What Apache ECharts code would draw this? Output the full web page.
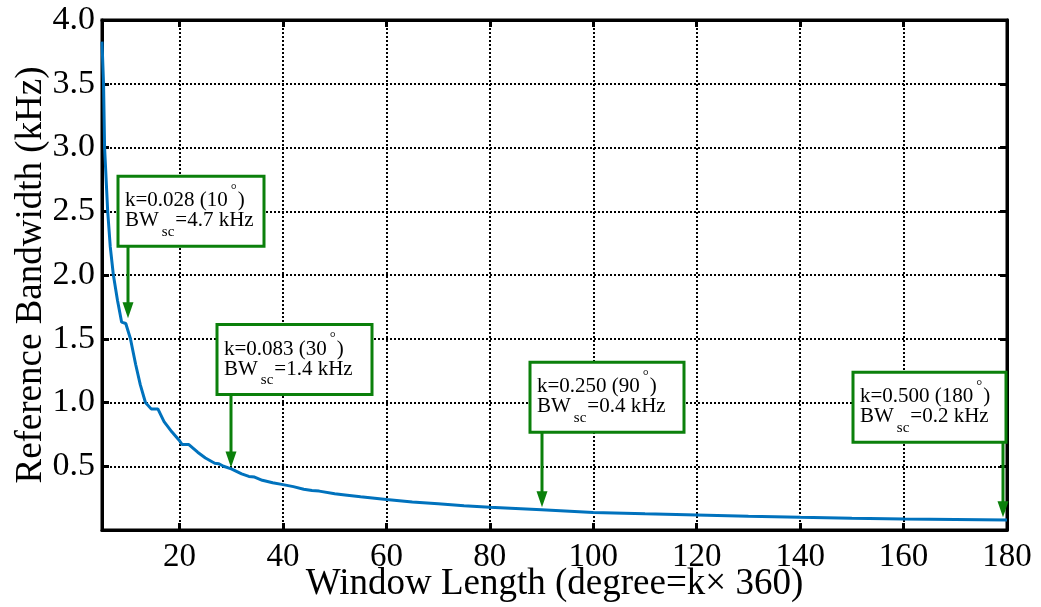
<!DOCTYPE html>
<html><head><meta charset="utf-8">
<script src="https://cdn.jsdelivr.net/npm/echarts@6/dist/echarts.min.js"></script>
<style>html,body{margin:0;padding:0;background:#fff}#c{width:1041px;height:607px}</style>
</head><body><div id="c"></div>
<script>
// ---- data ----
const windowDeg = [5, 5.3, 5.5, 6.1, 6.6, 7.2, 8.0, 8.8, 9.6, 10.5, 11.5, 12.4, 13.4, 14.5, 15.8, 17, 18.5, 20, 20.5, 21.8, 23.5, 25, 26.8, 27.6, 28.5, 30, 32, 33.4, 34.5, 36, 38, 40, 42, 44, 45.6, 47, 50, 52, 55, 60, 65, 70, 75, 80, 85, 90, 100, 110, 120, 130, 140, 150, 160, 170, 180];
const bandwidth = [3.83, 3.5, 3.0, 2.5, 2.22, 2.0, 1.8, 1.63, 1.62, 1.5, 1.3, 1.14, 1.0, 0.95, 0.95, 0.85, 0.77, 0.70, 0.67, 0.67, 0.61, 0.565, 0.524, 0.52, 0.50, 0.48, 0.44, 0.42, 0.415, 0.39, 0.37, 0.356, 0.34, 0.32, 0.31, 0.305, 0.285, 0.275, 0.26, 0.239, 0.22, 0.205, 0.19, 0.178, 0.168, 0.158, 0.137, 0.127, 0.118, 0.108, 0.10, 0.093, 0.087, 0.083, 0.079];
const xTicks = [20, 40, 60, 80, 100, 120, 140, 160, 180];
const xTitle = 'Window Length (degree=k\u00d7 360)';
const yTitle = 'Reference Bandwidth (kHz)';

// annotations (arrow tip in data coordinates + texts)
const annX = [10, 30, 90, 179.2];
const annY = [1.66, 0.49, 0.178, 0.10];
const annK = ['0.028', '0.083', '0.250', '0.500'];
const annDeg = ['10', '30', '90', '180'];
const annBW = ['4.7', '1.4', '0.4', '0.2'];

// ---- layout / style ----
const FONT = '"Liberation Serif", "Times New Roman", serif';
const GREEN = '#0b800b';
const boxDx = [-10, -14, -12, -150];
const boxDy = [-142, -143, -145, -145];
const boxW = [146, 155, 154, 153];
const boxH = 70;

const chart = echarts.init(document.getElementById('c'));

const tickStyle = { color: '#000', width: 3 };
const option = {
  animation: false,
  backgroundColor: '#fff',
  grid: { left: 102, right: 34, top: 20, bottom: 77, show: true, borderColor: '#000', borderWidth: 3,
    containLabel: false, outerBoundsMode: 'none' },
  xAxis: [
    {
      type: 'value', min: 5, max: 180, position: 'bottom',
      axisLine: { show: true, onZero: false, lineStyle: tickStyle },
      axisTick: { show: true, inside: true, length: 7, lineStyle: tickStyle, customValues: xTicks },
      axisLabel: { customValues: xTicks, fontFamily: FONT, fontSize: 33, color: '#000', margin: 11 },
      splitLine: { show: true, lineStyle: { type: [2, 2], width: 2, color: '#000' } },
      name: xTitle, nameLocation: 'middle', nameGap: 36, nameMoveOverlap: false,
      nameTextStyle: { fontFamily: FONT, fontSize: 37, color: '#000' }
    },
    {
      type: 'value', min: 5, max: 180, position: 'top',
      axisLine: { show: true, onZero: false, lineStyle: tickStyle },
      axisTick: { show: true, inside: true, length: 7, lineStyle: tickStyle, customValues: xTicks },
      axisLabel: { show: false }, splitLine: { show: false }
    }
  ],
  yAxis: [
    {
      type: 'value', min: 0, max: 4, interval: 0.5, position: 'left',
      axisLine: { show: true, onZero: false, lineStyle: tickStyle },
      axisTick: { show: true, inside: true, length: 7, lineStyle: tickStyle },
      axisLabel: { fontFamily: FONT, fontSize: 34, color: '#000', margin: 7,
        formatter: v => (v === 0 ? '' : v.toFixed(1)) },
      splitLine: { show: true, lineStyle: { type: [2, 2], width: 2, color: '#000' } },
      name: yTitle, nameLocation: 'middle', nameGap: 52, nameMoveOverlap: false,
      nameTextStyle: { fontFamily: FONT, fontSize: 37, color: '#000' }
    },
    {
      type: 'value', min: 0, max: 4, interval: 0.5, position: 'right',
      axisLine: { show: true, onZero: false, lineStyle: tickStyle },
      axisTick: { show: true, inside: true, length: 7, lineStyle: tickStyle },
      axisLabel: { show: false }, splitLine: { show: false }
    }
  ],
  series: [{
    type: 'line', xAxisIndex: 0, yAxisIndex: 0,
    data: windowDeg.map((x, i) => [x, bandwidth[i]]),
    showSymbol: false, symbol: 'none', silent: true, z: 3,
    lineStyle: { color: '#0072BD', width: 3 }
  }]
};
chart.setOption(option);

// ---- annotations ----
const cv = document.createElement('canvas').getContext('2d');
function tw(text, size) { cv.font = size + 'px ' + FONT; return cv.measureText(text).width; }
function txt(text, x, y, size) {
  return { type: 'text', z: 101, silent: true,
    style: { text: text, x: x, y: y, font: size + 'px ' + FONT, fill: '#000', verticalAlign: 'middle', align: 'left' } };
}
const graphics = [];
for (let i = 0; i < annX.length; i++) {
  const p = chart.convertToPixel({ xAxisIndex: 0, yAxisIndex: 0 }, [annX[i], annY[i]]);
  const px = Math.round(p[0]), py = p[1];
  const L = px + boxDx[i], T = py + boxDy[i];
  graphics.push({ type: 'rect', z: 100, silent: true,
    shape: { x: L, y: T, width: boxW[i], height: boxH },
    style: { fill: '#fff', stroke: GREEN, lineWidth: 3 } });
  graphics.push({ type: 'line', z: 100, silent: true,
    shape: { x1: px, y1: T + boxH, x2: px, y2: py - 12 },
    style: { stroke: GREEN, lineWidth: 3 } });
  graphics.push({ type: 'polygon', z: 100, silent: true,
    shape: { points: [[px - 5.5, py - 16], [px + 5.5, py - 16], [px, py]] },
    style: { fill: GREEN } });
  const tx = L + 7;
  const s1 = 'k=' + annK[i] + ' (' + annDeg[i];
  graphics.push(txt(s1, tx, T + 24.5, 21));
  const w1 = tw(s1, 21);
  graphics.push(txt('\u00b0', tx + w1 + 3, T + 14, 15));
  graphics.push(txt(')', tx + w1 + 3 + tw('\u00b0', 15) + 1, T + 24.5, 21));
  graphics.push(txt('BW', tx, T + 44.5, 21));
  const wb = tw('BW', 21);
  graphics.push(txt('sc', tx + wb + 3, T + 55.5, 15));
  const ws = tw('sc', 15);
  graphics.push(txt('=' + annBW[i] + ' kHz', tx + wb + 3 + ws + 1, T + 44.5, 21));
}
chart.setOption({ graphic: graphics });
</script>
</body></html>
